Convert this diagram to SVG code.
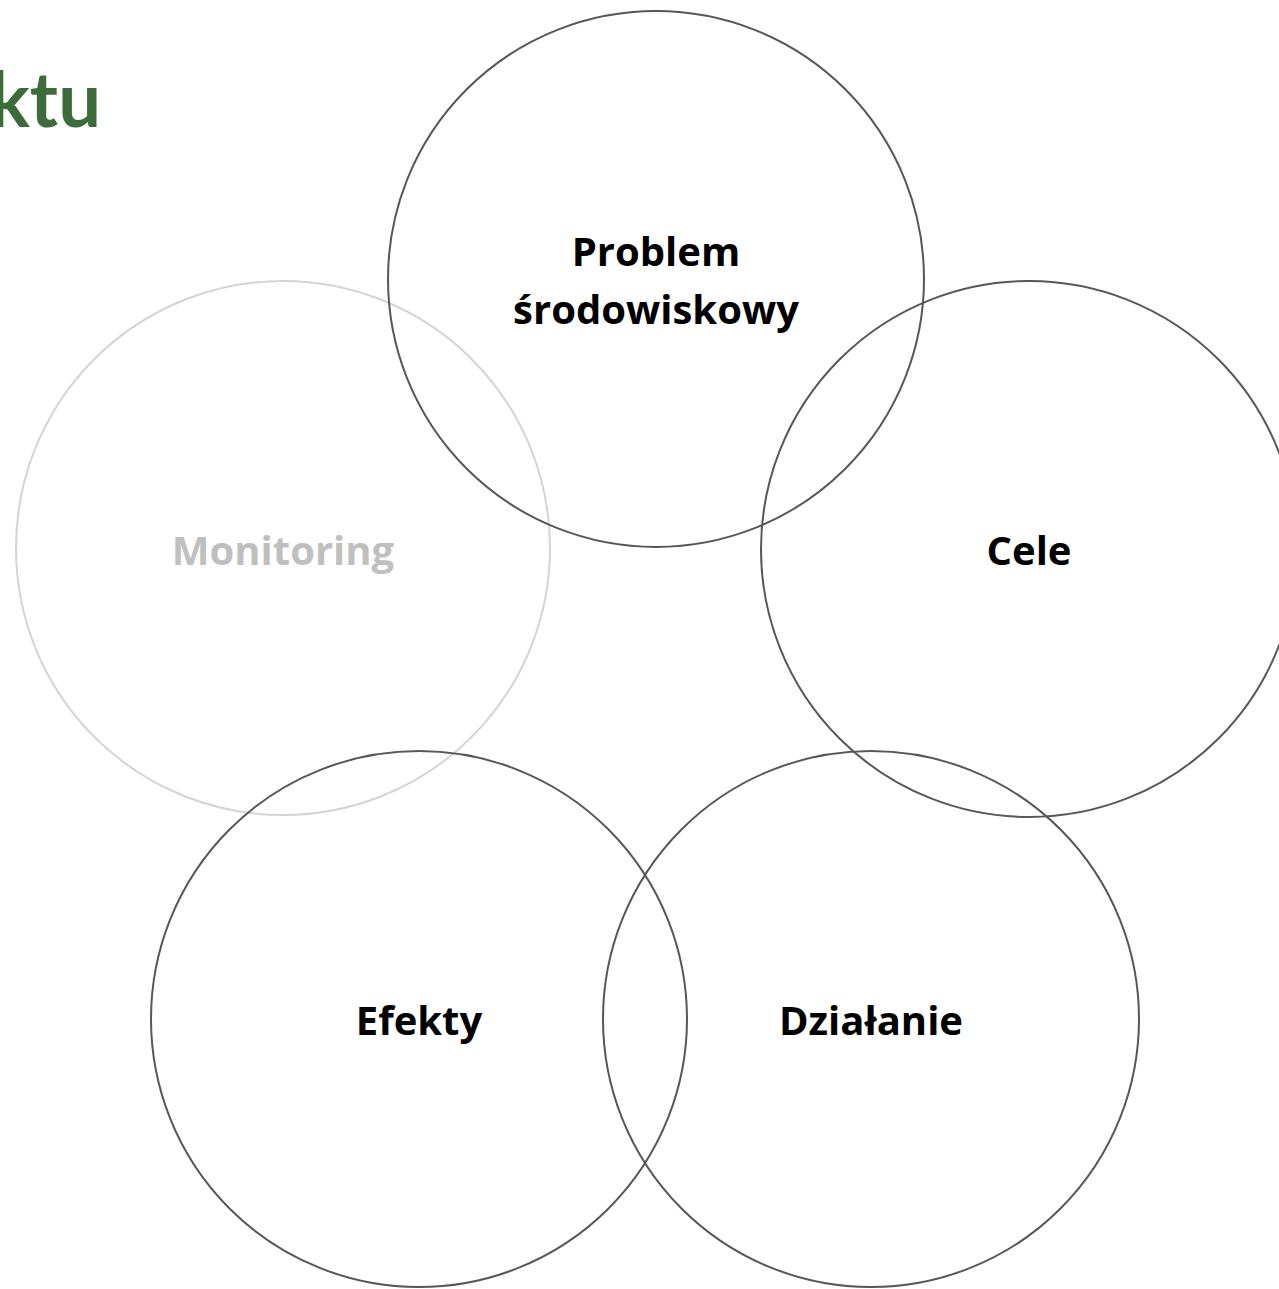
<svg xmlns="http://www.w3.org/2000/svg" width="1279" height="1289" viewBox="0 0 1279 1289">
<style>
.c{fill:none;stroke:#575757;stroke-width:2}
.cm{fill:none;stroke:#d4d4d4;stroke-width:2}
.t{font-family:"Open Sans",Lato,sans-serif;font-weight:bold;font-size:40px;fill:#000;text-anchor:middle}
.tm{fill:#bfbfbf}
.title{font-family:Lato,"Open Sans",sans-serif;font-weight:bold;font-size:76px;fill:#3e6b3a}
</style>
<rect width="1279" height="1289" fill="#fff"/>
<text class="title" x="101" y="127" text-anchor="end">ktu</text>
<g id="monitoring"><circle class="cm" cx="283" cy="548" r="267"/><text class="t tm" x="283" y="565">Monitoring</text></g>
<g id="problem"><circle class="c" cx="656" cy="279" r="268"/><text class="t" x="656" y="266">Problem</text><text class="t" x="656" y="324">środowiskowy</text></g>
<g id="cele"><circle class="c" cx="1029" cy="549" r="268"/><text class="t" x="1029" y="565">Cele</text></g>
<g id="efekty"><circle class="c" cx="419" cy="1019" r="268"/><text class="t" x="419" y="1035">Efekty</text></g>
<g id="dzialanie"><circle class="c" cx="871" cy="1019" r="268"/><text class="t" x="871" y="1035">Działanie</text></g>
<g id="connectors"/>
</svg>
